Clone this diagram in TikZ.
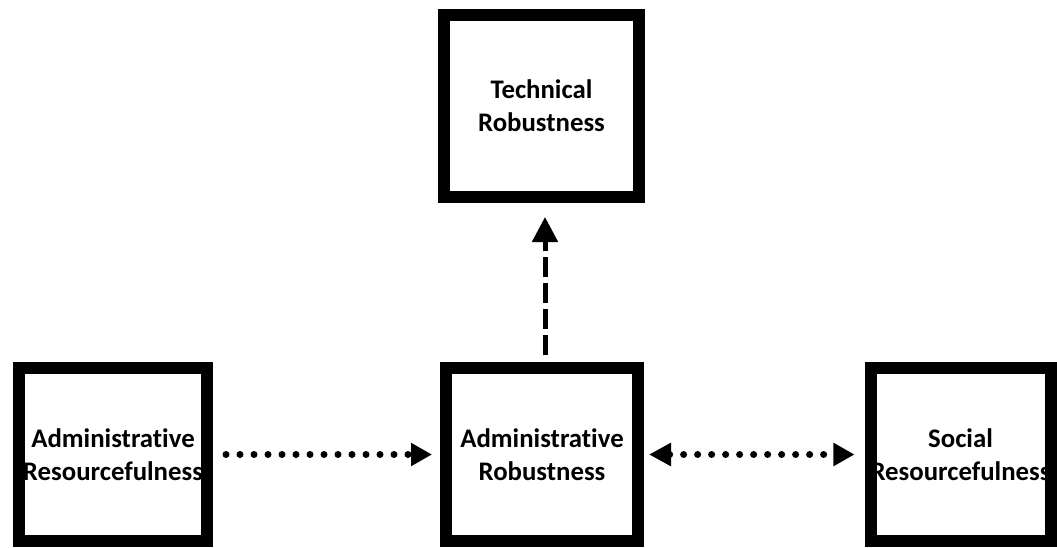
\documentclass[tikz,border=0pt]{standalone}
\usepackage{fontspec}
\setmainfont{Carlito}[Ligatures=NoCommon]
\usetikzlibrary{arrows.meta}
\begin{document}
\begin{tikzpicture}[x=1pt,y=-1pt,
  box/.style={draw=black,line width=12pt,fill=white,inner sep=0pt,
    align=center,font=\fontsize{26.8pt}{33pt}\selectfont\bfseries},
  dotline/.style={line width=7pt,line cap=round,dash pattern=on 0pt off 14pt},
  dashline/.style={line width=5pt,dash pattern=on 20pt off 6pt}]
\useasboundingbox (0,0) rectangle (1057,548);
% the four boxes
\node[box,minimum width=195pt,minimum height=182pt] (tr) at (541.5,106) {Technical\\Robustness};
\node[box,minimum width=192pt,minimum height=173pt] (arob) at (542,454.5) {Administrative\\Robustness};
\node[box,minimum width=188pt,minimum height=173pt] (ares) at (113,454.5) {Administrative\\Resourcefulness};
\node[box,minimum width=179pt,minimum height=173pt] (sres) at (960.5,454.5) {Social\\Resourcefulness};
% dotted links between the bottom row
\draw[dotline,-{Triangle[length=21pt,width=22pt]},shorten <=13pt,shorten >=8pt]
  (ares.east) -- (arob.west);
\draw[dotline,{Triangle[length=22pt,width=22pt]}-{Triangle[length=21pt,width=22pt]},shorten <=5pt,shorten >=10pt]
  (arob.east) -- (sres.west);
% dashed link up to the top box
\draw[dashline,-{Triangle[length=25pt,width=25pt]},shorten <=7pt,shorten >=14pt]
  (arob.north -| 545,0) -- (tr.south -| 545,0);
\end{tikzpicture}
\end{document}
